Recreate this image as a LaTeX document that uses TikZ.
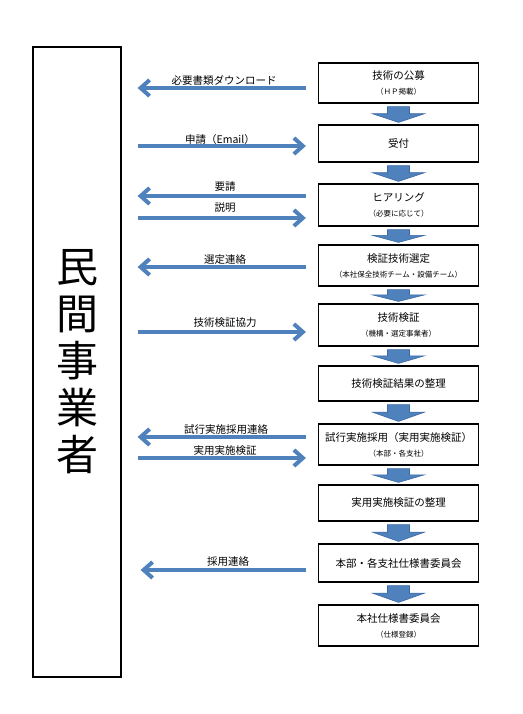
\documentclass[tikz,border=0pt]{standalone}
\usepackage{fontspec}
\setmainfont{Noto Sans CJK JP}
\usetikzlibrary{arrows.meta,calc}
\definecolor{arrblue}{HTML}{4F81BD}
\definecolor{arredge}{HTML}{3B6AA3}
\newcommand\mainsz{\fontsize{10.5}{12}\selectfont}
\newcommand\subsz{\fontsize{7.5}{9}\selectfont}
\newcommand\flowarrow[2]{%
  \path[downarr] let \p1=(#1.south), \p2=(#2.north),
    \n1={\y1-3pt}, \n2={\y2+2pt}, \n3={\n1-0.45*(\n1-\n2)} in
    (\x1-11pt,\n1) -- (\x1+11pt,\n1) -- (\x1+11pt,\n3) -- (\x1+26pt,\n3)
    -- (\x1,\n2) -- (\x1-26pt,\n3) -- (\x1-11pt,\n3) -- cycle;}
\tikzset{
  box/.style={draw=black, line width=1.2pt, minimum width=160pt, inner sep=0pt,
    align=center, font=\mainsz},
  downarr/.style={fill=arrblue, draw=arredge, line width=0.6pt},
  harr/.style={draw=arrblue, line width=4pt,
    -{Straight Barb[length=9pt,width=16pt]}},
  lbl/.style={font=\mainsz, inner sep=0pt},
}
\begin{document}
\begin{tikzpicture}[x=1pt,y=-1pt]
\useasboundingbox[fill=white] (0,0) rectangle (522,714);
% left box
\node[draw=black, line width=1.2pt, minimum width=88pt, minimum height=630pt,
  inner sep=0pt, align=center, font=\fontsize{42}{47}\selectfont]
  (pv) at (77,362) {民\\間\\事\\業\\者};
% flow boxes
\node[box, minimum height=40pt] (b1) at (398.5,83) {技術の公募\\[3pt]{\subsz （ＨＰ掲載）}};
\node[box, minimum height=37pt] (b2) at (398.5,143.5) {受付};
\node[box, minimum height=42pt] (b3) at (398.5,205) {ヒアリング\\[3pt]{\subsz （必要に応じて）}};
\node[box, minimum height=41pt] (b4) at (398.5,265.5) {検証技術選定\\[3pt]{\subsz （本社保全技術チーム・設備チーム）}};
\node[box, minimum height=42pt] (b5) at (398.5,325) {技術検証\\[3pt]{\subsz （機構・選定事業者）}};
\node[box, minimum height=35pt] (b6) at (398.5,383.5) {技術検証結果の整理};
\node[box, minimum height=41pt] (b7) at (398.5,444.5) {試行実施採用（実用実施検証）\\[3pt]{\subsz （本部・各支社）}};
\node[box, minimum height=36pt] (b8) at (398.5,503) {実用実施検証の整理};
\node[box, minimum height=38pt] (b9) at (398.5,563) {本部・各支社仕様書委員会};
\node[box, minimum height=41pt] (b10) at (398.5,625.5) {本社仕様書委員会\\[3pt]{\subsz （仕様登録）}};
% down arrows
\flowarrow{b1}{b2}
\flowarrow{b2}{b3}
\flowarrow{b3}{b4}
\flowarrow{b4}{b5}
\flowarrow{b5}{b6}
\flowarrow{b6}{b7}
\flowarrow{b7}{b8}
\flowarrow{b8}{b9}
\flowarrow{b9}{b10}
% horizontal arrow ends
\coordinate (R) at ($(b1.west)+(-12,0)$);
\coordinate (L) at ($(pv.east)+(16,0)$);
\draw[harr] (R |- 0,88) -- (L |- 0,88);
\node[lbl] (t1) at (224,80) {必要書類ダウンロード};
\draw[harr] (L |- 0,146) -- (R |- 0,146);
\node[lbl] (t2) at (220,140) {申請（Email）};
\draw[harr] (R |- 0,196) -- (L |- 0,196);
\node[lbl] (t3) at (225,187) {要請};
\draw[harr] (L |- 0,218) -- (R |- 0,218);
\node[lbl] (t4) at (225,208) {説明};
\draw[harr] (R |- 0,267) -- (L |- 0,267);
\node[lbl] (t5) at (225,260) {選定連絡};
\draw[harr] (L |- 0,332) -- (R |- 0,332);
\node[lbl] (t6) at (225,323) {技術検証協力};
\draw[harr] (R |- 0,437) -- (L |- 0,437);
\node[lbl] (t7) at (226,430) {試行実施採用連絡};
\draw[harr] (L |- 0,458) -- (R |- 0,458);
\node[lbl] (t8) at (225,451) {実用実施検証};
\draw[harr] (R |- 0,570) -- ([xshift=3pt]L |- 0,570);
\node[lbl] (t9) at (228,562) {採用連絡};
\end{tikzpicture}
\end{document}
